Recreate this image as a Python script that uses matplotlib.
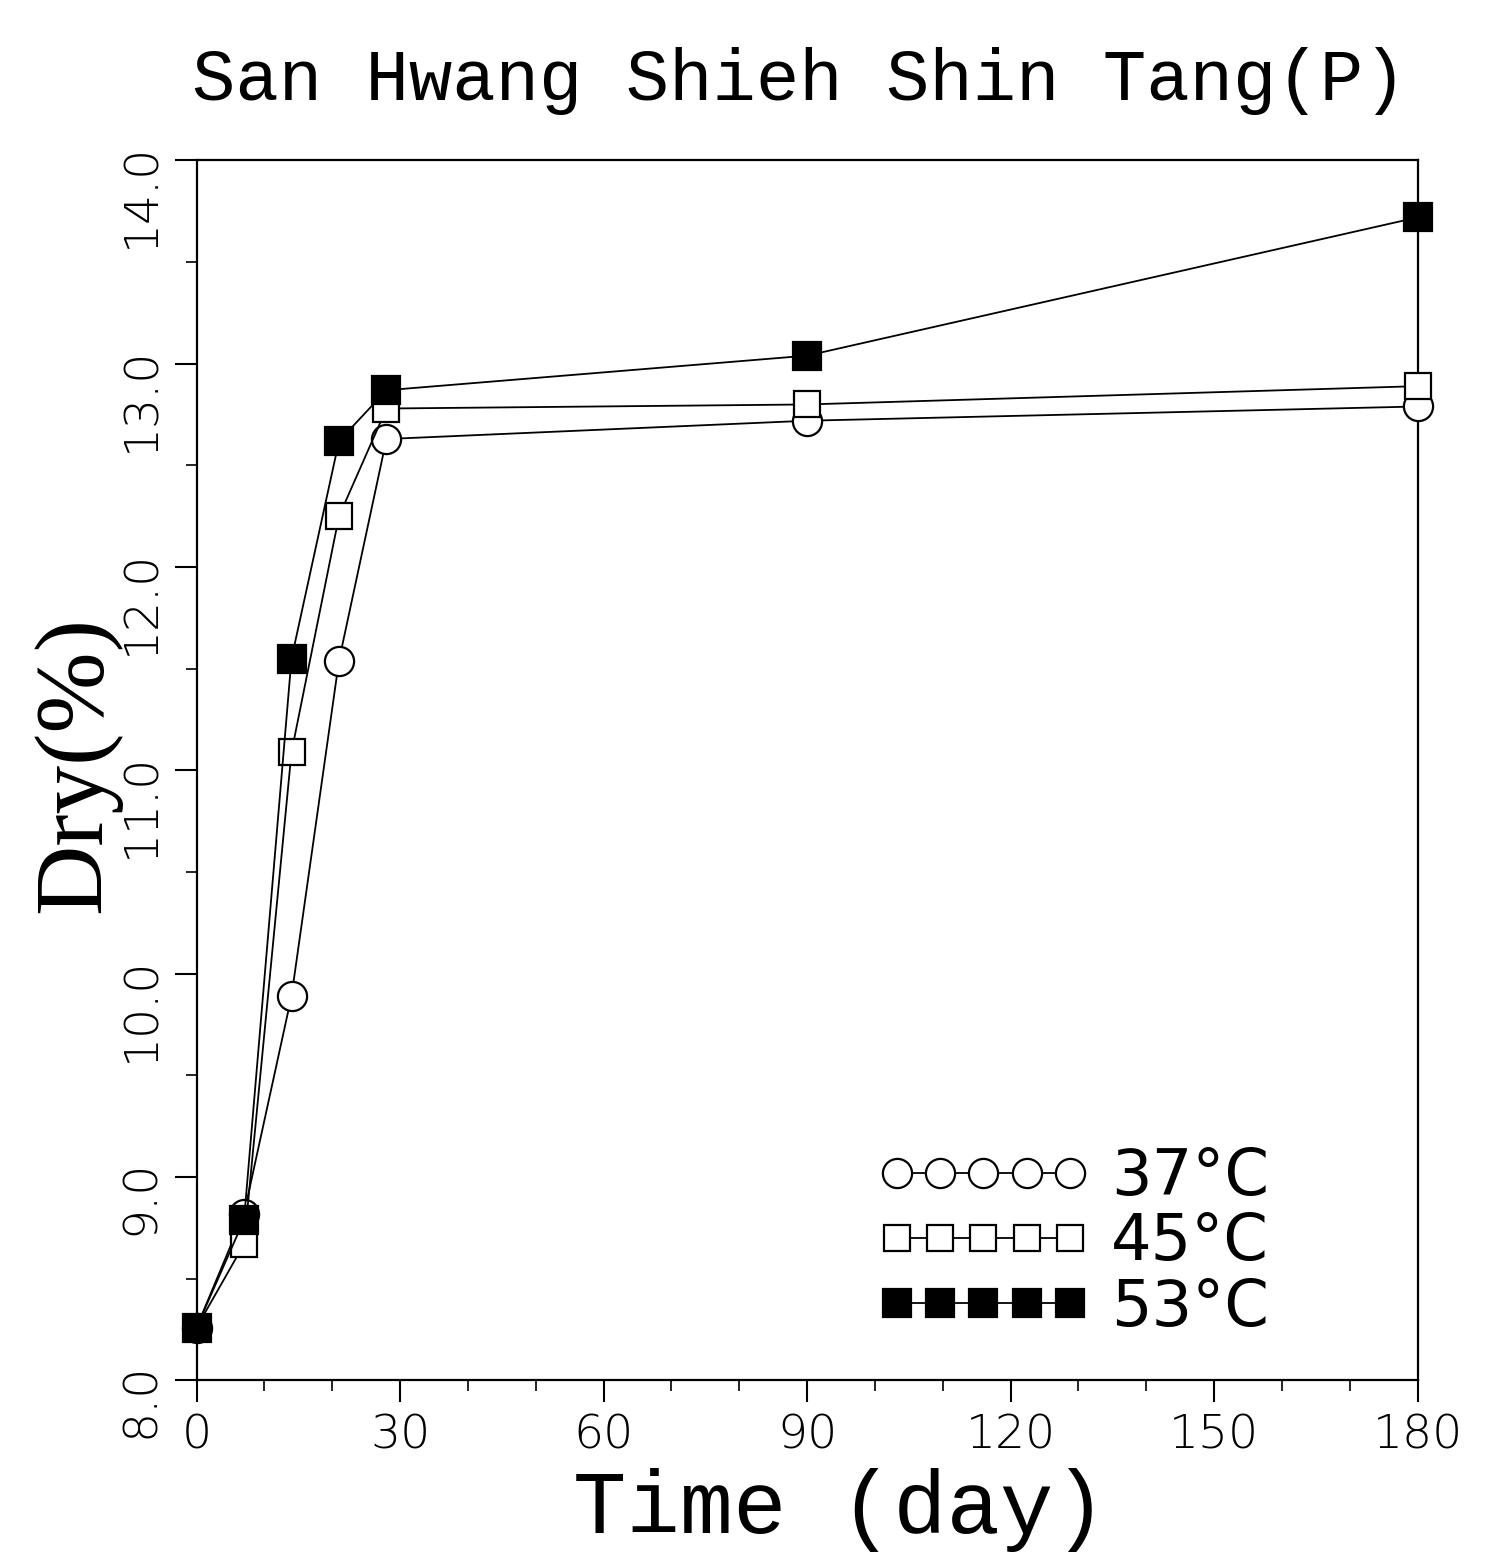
import matplotlib.pyplot as plt
from matplotlib.ticker import MultipleLocator

days = [0, 7, 14, 21, 28, 90, 180]
dry_37 = [8.26, 8.82, 9.89, 11.54, 12.63, 12.72, 12.79]
dry_45 = [8.26, 8.67, 11.09, 12.25, 12.78, 12.80, 12.89]
dry_53 = [8.26, 8.79, 11.55, 12.62, 12.87, 13.04, 13.72]

x_ticks = [0, 30, 60, 90, 120, 150, 180]
y_ticks = [8.0, 9.0, 10.0, 11.0, 12.0, 13.0, 14.0]
y_tick_labels = ["8.0", "9.0", "10.0", "11.0", "12.0", "13.0", "14.0"]

title = "San Hwang Shieh Shin Tang(P)"

fig = plt.figure(figsize=(14.89, 15.58), dpi=100)
ax = fig.add_axes([0.132, 0.114, 0.820, 0.783])

line_kw = dict(color="black", lw=1.3, mec="black", mew=1.6, clip_on=False)
ax.plot(days, dry_37, marker="o", ms=21, mfc="white", label="37°C", zorder=3, **line_kw)
ax.plot(days, dry_45, marker="s", ms=19, mfc="white", label="45°C", zorder=4, **line_kw)
ax.plot(days, dry_53, marker="s", ms=20, mfc="black", label="53°C", zorder=5, **line_kw)

ax.set_xlim(0, 180)
ax.set_ylim(8, 14)
ax.set_xticks(x_ticks)
ax.set_yticks(y_ticks)
ax.set_yticklabels(y_tick_labels)
ax.xaxis.set_minor_locator(MultipleLocator(10))
ax.yaxis.set_minor_locator(MultipleLocator(0.5))

tick_font = ["Liberation Sans Narrow", "DejaVu Sans"]
ax.tick_params(which="major", direction="out", length=16, width=1.5, pad=8, labelsize=34)
ax.tick_params(which="minor", direction="out", length=8, width=1.2)
ax.tick_params(axis="y", labelrotation=90)
for lab in ax.get_xticklabels() + ax.get_yticklabels():
    lab.set_family(tick_font)
    lab.set_fontweight("light")
for sp in ax.spines.values():
    sp.set_linewidth(1.6)

ax.set_title(title, x=0.494, y=1.058, va="center", fontsize=52,
             family="Liberation Mono")
ax.set_xlabel("Time (day)", fontsize=64, family="Liberation Mono", va="center")
ax.xaxis.set_label_coords(0.527, -0.106)
ax.set_ylabel("Dry(%)", fontsize=70, family="Liberation Serif", va="center")
ax.yaxis.set_label_coords(-0.098, 0.505)

leg = ax.legend(loc="lower left", bbox_to_anchor=(0.532, 0.008), numpoints=5,
                frameon=False, handlelength=3.3, handletextpad=0.35,
                labelspacing=0.05, borderpad=0, markerscale=1.0,
                prop={"family": tick_font, "size": 46})

fig.savefig("out.png", dpi=100)
